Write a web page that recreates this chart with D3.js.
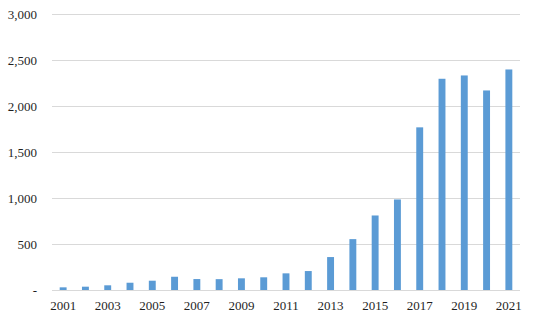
<!DOCTYPE html>
<html lang="en">
<head>
    <meta charset="UTF-8">
    <title>Bar chart 2001-2021</title>
    <script src="https://d3js.org/d3.v7.min.js"></script>
    <style>
        body { margin: 0; padding: 0; background: #fff; }
        svg text { font-family: "Liberation Serif", "Times New Roman", serif; font-size: 13px; fill: #1f1f1f; }
    </style>
</head>
<body>
    <svg width="553" height="321"></svg>
    <script>
        const years = d3.range(2001, 2022).map(String);
        const values = [29, 36, 51, 79, 101, 144, 119, 118, 127, 138,
                        181, 206, 358, 553, 810, 984, 1768, 2296, 2332, 2169, 2397];
        const yTicks = [0, 500, 1000, 1500, 2000, 2500, 3000];
        const xLabels = years.filter((d, i) => i % 2 === 0);

        const margin = { top: 14, right: 33, bottom: 31, left: 52 };
        const width = 553 - margin.left - margin.right;
        const height = 321 - margin.top - margin.bottom;

        const svg = d3.select("svg")
            .append("g")
            .attr("transform", `translate(${margin.left},${margin.top})`);

        const x = d3.scaleBand().domain(years).range([0, width]).paddingInner(0.69).paddingOuter(0.345);
        const y = d3.scaleLinear().domain([0, 3000]).range([height, 0]);

        // gridlines
        svg.append("g")
            .selectAll("line")
            .data(yTicks)
            .enter()
            .append("line")
            .attr("x1", 0)
            .attr("x2", width)
            .attr("y1", d => Math.round(y(d)) + 0.5)
            .attr("y2", d => Math.round(y(d)) + 0.5)
            .attr("stroke", "#d9d9d9")
            .attr("stroke-width", 1);

        svg.selectAll("rect")
            .data(values)
            .enter()
            .append("rect")
            .attr("x", (d, i) => x(years[i]))
            .attr("y", d => y(d))
            .attr("width", x.bandwidth())
            .attr("height", d => height - y(d))
            .attr("fill", "#5b9bd5");

        const yAxis = d3.axisLeft(y)
            .tickValues(yTicks)
            .tickSize(0)
            .tickPadding(15)
            .tickFormat(d => d === 0 ? "-" : d3.format(",")(d));
        svg.append("g").call(yAxis).call(g => g.select(".domain").remove());

        const xAxis = d3.axisBottom(x)
            .tickValues(xLabels)
            .tickSize(0)
            .tickPadding(11);
        svg.append("g")
            .attr("transform", `translate(0,${height})`)
            .call(xAxis)
            .call(g => g.select(".domain").remove());

        svg.selectAll(".tick text")
            .style("font-family", "'Liberation Serif', 'Times New Roman', serif")
            .style("font-size", "13px")
            .attr("fill", "#1f1f1f");
    </script>
</body>
</html>
